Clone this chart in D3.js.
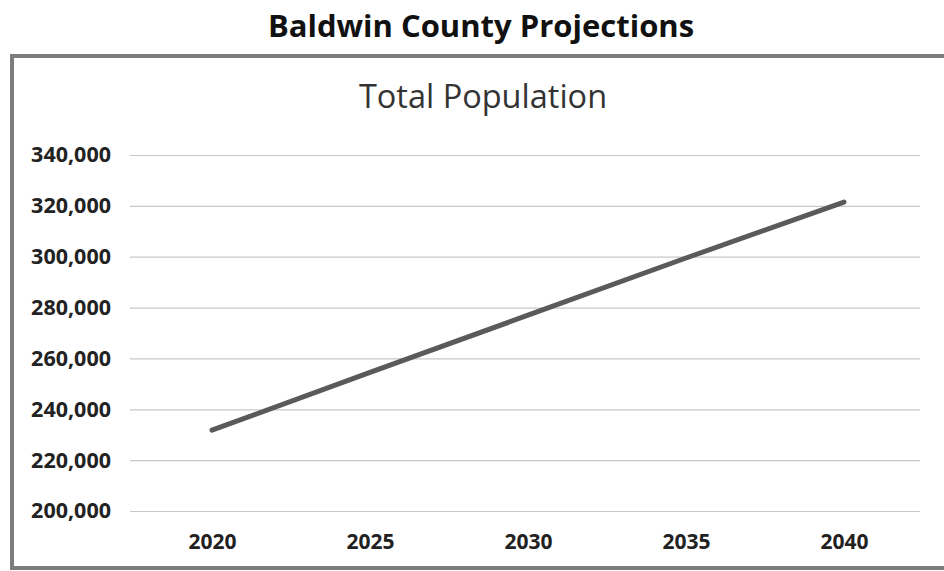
<!DOCTYPE html>
<html>
<head>
<meta charset="utf-8">
<script src="https://cdn.jsdelivr.net/npm/d3@7"></script>
<style>
  html, body { margin: 0; padding: 0; background: #fff; }
  svg { display: block; }
</style>
</head>
<body>
<svg id="chart" width="944" height="571"></svg>
<script>
const years = ["2020", "2025", "2030", "2035", "2040"];
const population = [231767, 254500, 277000, 299500, 321500];
const yTicks = [200000, 220000, 240000, 260000, 280000, 300000, 320000, 340000];
const mainTitle = "Baldwin County Projections";
const chartTitle = "Total Population";

const FONT = "'Open Sans', Lato, sans-serif";
const svg = d3.select("#chart");

// page title
svg.append("text")
  .attr("x", 481).attr("y", 37)
  .attr("text-anchor", "middle")
  .style("font-family", FONT).style("font-weight", "bold")
  .style("font-size", "31px").attr("fill", "#111")
  .text(mainTitle);

// chart frame
svg.append("rect")
  .attr("x", 12).attr("y", 56).attr("width", 950).attr("height", 512)
  .attr("fill", "#fff").attr("stroke", "#7d7d7d").attr("stroke-width", 4);

// chart title
svg.append("text")
  .attr("x", 483).attr("y", 108)
  .attr("text-anchor", "middle")
  .style("font-family", FONT)
  .style("font-size", "32.5px").attr("fill", "#333")
  .text(chartTitle);

const x = d3.scalePoint().domain(years).range([133, 923]).padding(0.5);
const y = d3.scaleLinear().domain([200000, 340000]).range([511, 155]);

// gridlines via axis
const grid = svg.append("g").attr("transform", "translate(130,0)")
  .call(d3.axisRight(y).tickValues(yTicks).tickSize(790).tickFormat(""));
grid.select(".domain").remove();
grid.selectAll("line").attr("stroke", "#c8c8c8").attr("stroke-width", 1.2);

// y axis labels
const yAxis = svg.append("g").attr("transform", "translate(111,0)")
  .call(d3.axisLeft(y).tickValues(yTicks).tickSize(0).tickPadding(0).tickFormat(d3.format(",")));
yAxis.select(".domain").remove();
yAxis.selectAll("text")
  .style("font-family", FONT).style("font-weight", "bold")
  .style("font-size", "21.5px").attr("fill", "#222");

// x axis labels
const xAxis = svg.append("g").attr("transform", "translate(0,528)")
  .call(d3.axisBottom(x).tickSize(0).tickPadding(0));
xAxis.select(".domain").remove();
xAxis.selectAll("text")
  .attr("dy", "1.0em")
  .style("font-family", FONT).style("font-weight", "bold")
  .style("font-size", "21px").attr("fill", "#222");

// line
const line = d3.line().x((d, i) => x(years[i])).y(d => y(d));
svg.append("path")
  .datum(population)
  .attr("d", line)
  .attr("fill", "none")
  .attr("stroke", "#5a5a5a")
  .attr("stroke-width", 5)
  .attr("stroke-linecap", "round")
  .attr("stroke-linejoin", "round");
</script>
</body>
</html>
